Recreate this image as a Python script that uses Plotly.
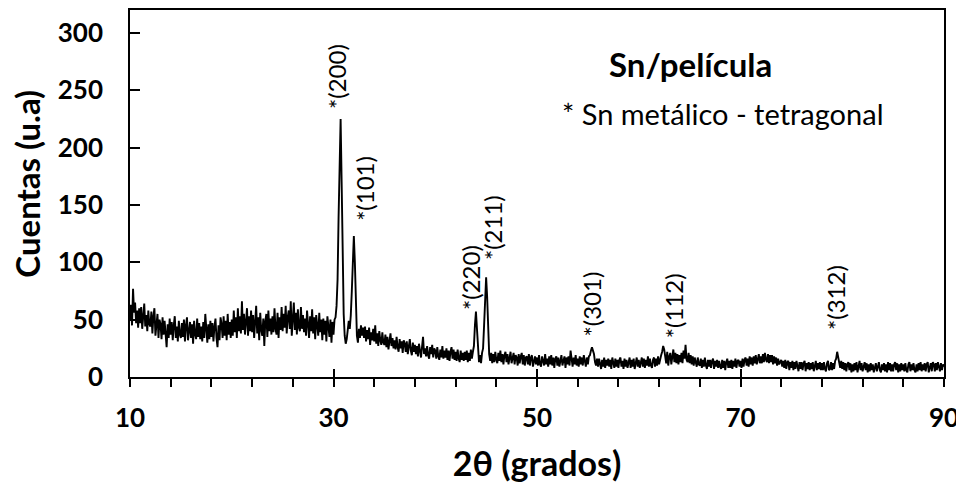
import plotly.graph_objects as go

# ---------------- data ----------------
start_deg = 10
step_deg = 0.1
# counts, one row per degree (10.0 ... 10.9, 11.0 ... 11.9, ...), last row = 90.0
counts_by_degree = [
    [50, 63, 45, 77, 56, 65, 47, 58, 43, 60],   # 10
    [47, 61, 42, 55, 64, 44, 54, 40, 58, 46],   # 11
    [44, 57, 38, 53, 60, 36, 48, 55, 34, 50],   # 12
    [46, 33, 52, 37, 49, 35, 26, 46, 34, 51],   # 13
    [37, 48, 32, 45, 53, 34, 44, 31, 49, 37],   # 14
    [34, 47, 35, 50, 31, 45, 52, 32, 44, 48],   # 15
    [34, 46, 29, 49, 37, 33, 51, 35, 47, 33],   # 16
    [44, 31, 48, 34, 55, 37, 30, 46, 33, 49],   # 17
    [35, 47, 31, 44, 51, 34, 26, 45, 32, 52],   # 18
    [46, 34, 53, 36, 49, 32, 55, 37, 48, 34],   # 19
    [50, 36, 58, 39, 52, 34, 60, 40, 53, 38],   # 20
    [66, 41, 55, 37, 51, 60, 36, 53, 40, 58],   # 21
    [39, 54, 34, 50, 62, 38, 52, 32, 56, 41],   # 22
    [36, 51, 27, 49, 55, 35, 58, 40, 51, 37],   # 23
    [53, 39, 60, 42, 37, 56, 34, 52, 41, 61],   # 24
    [40, 55, 43, 62, 38, 52, 58, 42, 66, 36],   # 25
    [53, 65, 41, 56, 37, 59, 43, 40, 61, 42],   # 26
    [54, 39, 51, 36, 58, 42, 34, 53, 40, 59],   # 27
    [38, 52, 33, 54, 41, 36, 56, 39, 50, 32],   # 28
    [51, 37, 49, 31, 53, 39, 35, 50, 30, 48],   # 29
    [37, 50, 52, 62, 85, 140, 200, 225, 170, 95],   # 30
    [55, 36, 29, 33, 44, 49, 42, 54, 75, 110],  # 31
    [123, 100, 62, 36, 30, 42, 34, 45, 36, 43], # 32
    [34, 44, 31, 41, 33, 43, 28, 39, 32, 42],   # 33
    [31, 45, 29, 38, 27, 40, 32, 28, 39, 30],   # 34
    [28, 37, 26, 35, 24, 33, 38, 27, 34, 25],   # 35
    [32, 24, 35, 26, 22, 33, 25, 31, 21, 32],   # 36
    [29, 22, 31, 20, 28, 33, 23, 19, 30, 22],   # 37
    [28, 20, 27, 18, 29, 21, 17, 26, 35, 20],   # 38
    [25, 18, 27, 19, 16, 26, 20, 28, 17, 25],   # 39
    [23, 16, 26, 18, 15, 24, 17, 27, 16, 23],   # 40
    [17, 25, 15, 23, 14, 22, 26, 16, 24, 15],   # 41
    [22, 14, 24, 16, 13, 23, 15, 21, 14, 22],   # 42
    [15, 23, 13, 21, 14, 24, 16, 22, 27, 45],   # 43
    [57, 42, 20, 13, 19, 12, 21, 25, 45, 72],   # 44
    [87, 70, 40, 20, 14, 21, 12, 20, 13, 22],   # 45
    [15, 12, 21, 14, 23, 13, 20, 11, 19, 22],   # 46
    [13, 20, 11, 19, 22, 12, 18, 21, 11, 19],   # 47
    [17, 10, 20, 12, 18, 21, 11, 19, 10, 17],   # 48
    [18, 11, 20, 10, 17, 19, 9, 16, 18, 11],    # 49
    [17, 10, 19, 11, 9, 18, 12, 10, 20, 11],    # 50
    [16, 9, 18, 11, 19, 10, 17, 8, 16, 18],     # 51
    [10, 17, 9, 16, 19, 10, 15, 18, 8, 17],     # 52
    [11, 18, 10, 23, 16, 9, 17, 11, 19, 10],    # 53
    [16, 9, 18, 11, 17, 10, 19, 12, 9, 17],     # 54
    [11, 18, 19, 23, 26, 23, 20, 13, 10, 16],   # 55
    [9, 16, 10, 7, 15, 9, 17, 8, 15, 10],       # 56
    [16, 9, 15, 7, 17, 10, 8, 16, 9, 15],       # 57
    [8, 15, 17, 9, 14, 7, 16, 9, 15, 8],        # 58
    [14, 17, 8, 15, 9, 16, 7, 14, 17, 9],       # 59
    [15, 8, 14, 17, 9, 16, 8, 15, 10, 18],      # 60
    [9, 16, 10, 8, 15, 17, 9, 16, 10, 18],      # 61
    [11, 17, 19, 22, 27, 24, 18, 12, 22, 10],   # 62
    [18, 21, 11, 19, 24, 13, 21, 12, 20, 11],   # 63
    [19, 13, 21, 12, 23, 16, 28, 15, 13, 21],   # 64
    [12, 19, 11, 18, 10, 17, 12, 9, 17, 11],    # 65
    [10, 16, 8, 15, 9, 17, 10, 7, 15, 9],       # 66
    [15, 8, 14, 16, 7, 14, 9, 15, 8, 14],       # 67
    [9, 7, 15, 8, 14, 6, 13, 16, 8, 14],        # 68
    [8, 15, 7, 14, 9, 16, 8, 14, 15, 9],        # 69
    [14, 8, 16, 9, 15, 17, 10, 16, 9, 18],      # 70
    [11, 17, 10, 18, 12, 19, 11, 17, 20, 12],   # 71
    [18, 12, 20, 13, 21, 15, 13, 20, 12, 19],   # 72
    [13, 19, 11, 18, 12, 17, 10, 16, 11, 13],   # 73
    [15, 9, 14, 8, 15, 7, 13, 14, 6, 13],       # 74
    [8, 14, 6, 13, 7, 14, 8, 5, 13, 7],         # 75
    [13, 6, 12, 14, 5, 12, 7, 13, 6, 12],       # 76
    [7, 13, 5, 12, 14, 6, 12, 7, 13, 6],        # 77
    [12, 6, 13, 7, 5, 12, 14, 6, 7, 13],        # 78
    [6, 12, 7, 14, 16, 22, 18, 14, 8, 14],      # 79
    [7, 13, 6, 12, 5, 11, 13, 6, 12, 4],        # 80
    [11, 5, 12, 6, 13, 4, 11, 14, 6, 12],       # 81
    [5, 11, 13, 6, 12, 4, 11, 5, 12, 6],        # 82
    [11, 4, 10, 12, 5, 11, 13, 6, 4, 11],       # 83
    [6, 12, 5, 11, 4, 13, 6, 12, 5, 11],        # 84
    [5, 11, 13, 6, 12, 4, 11, 5, 12, 6],        # 85
    [11, 5, 12, 6, 4, 11, 13, 5, 11, 6],        # 86
    [12, 6, 4, 11, 5, 12, 6, 13, 5, 11],        # 87
    [6, 12, 5, 11, 13, 4, 10, 12, 5, 13],       # 88
    [11, 5, 12, 6, 13, 7, 5, 12, 6, 11],        # 89
    [9],                                        # 90
]

peak_labels = ["*(200)", "*(101)", "*(220)", "*(211)", "*(301)", "*(112)", "*(312)"]
peak_label_x = [30.3, 33.1, 43.4, 45.7, 55.4, 63.4, 79.4]
peak_label_y = [232, 134, 57, 100, 34, 32, 39]

x_tick_vals = [10, 30, 50, 70, 90]
y_tick_vals = [0, 50, 100, 150, 200, 250, 300]

# ---------------- build series ----------------
two_theta = []
counts = []
for i, row in enumerate(counts_by_degree):
    for j, v in enumerate(row):
        two_theta.append(round(start_deg + i + j * step_deg, 1))
        counts.append(v)

FONT = "Lato"

fig = go.Figure()
fig.add_trace(go.Scatter(x=two_theta, y=counts, mode="lines",
                         line=dict(color="black", width=1.9),
                         hoverinfo="skip", showlegend=False))
# helper trace so that the overlay axis (crossing major ticks) is drawn
fig.add_trace(go.Scatter(x=[10, 90], y=[0, 0], xaxis="x2", mode="lines",
                         line=dict(width=0), hoverinfo="skip", showlegend=False,
                         opacity=0))

for txt, px, py in zip(peak_labels, peak_label_x, peak_label_y):
    fig.add_annotation(x=px, y=py, xref="x", yref="y", text=txt, textangle=-90,
                       showarrow=False, xanchor="center", yanchor="bottom",
                       font=dict(family=FONT, size=24, color="black"))

fig.add_annotation(x=0.688, y=0.853, xref="paper", yref="paper",
                   text="<b>Sn/película</b>", showarrow=False,
                   xanchor="center", yanchor="middle",
                   font=dict(family=FONT, size=33, color="black"))
fig.add_annotation(x=0.728, y=0.719, xref="paper", yref="paper",
                   text="* Sn metálico - tetragonal", showarrow=False,
                   xanchor="center", yanchor="middle",
                   font=dict(family=FONT, size=29, color="black"))
# y-axis title
fig.add_annotation(x=-0.126, y=0.528, xref="paper", yref="paper",
                   text="<b>Cuentas (u.a)</b>", textangle=-90, showarrow=False,
                   xanchor="center", yanchor="middle",
                   font=dict(family=FONT, size=33, color="black"))

fig.update_layout(
    width=964, height=482,
    margin=dict(l=122, r=28, t=2, b=113),
    paper_bgcolor="white", plot_bgcolor="white",
    showlegend=False,
    xaxis=dict(range=[10, 90], tickvals=x_tick_vals, ticks="outside", ticklen=8,
               tickwidth=1.6, tickcolor="black",
               minor=dict(dtick=4, tick0=10, ticks="outside", ticklen=8,
                          tickwidth=1.6, tickcolor="black"),
               showline=True, linecolor="black", linewidth=1.6, mirror=True,
               showgrid=False, zeroline=False, automargin=False,
               ticklabelstandoff=9,
               tickfont=dict(family=FONT, size=26, color="black", weight="bold"),
               title=dict(text="<b>2θ (grados)</b>", standoff=20,
                          font=dict(family=FONT, size=34, color="black"))),
    xaxis2=dict(range=[10, 90], overlaying="x", matches="x", tickvals=x_tick_vals,
                ticks="inside", ticklen=8, tickwidth=1.6, tickcolor="black",
                showticklabels=False, showgrid=False, zeroline=False,
                showline=False, automargin=False),
    yaxis=dict(range=[0, 320], tickvals=y_tick_vals, ticks="inside", ticklen=10,
               tickwidth=1.6, tickcolor="black",
               showline=True, linecolor="black", linewidth=1.6, mirror=True,
               showgrid=False, zeroline=False, automargin=False,
               ticklabelstandoff=20,
               tickfont=dict(family=FONT, size=26, color="black", weight="bold")),
)

fig.write_html("out.html")
